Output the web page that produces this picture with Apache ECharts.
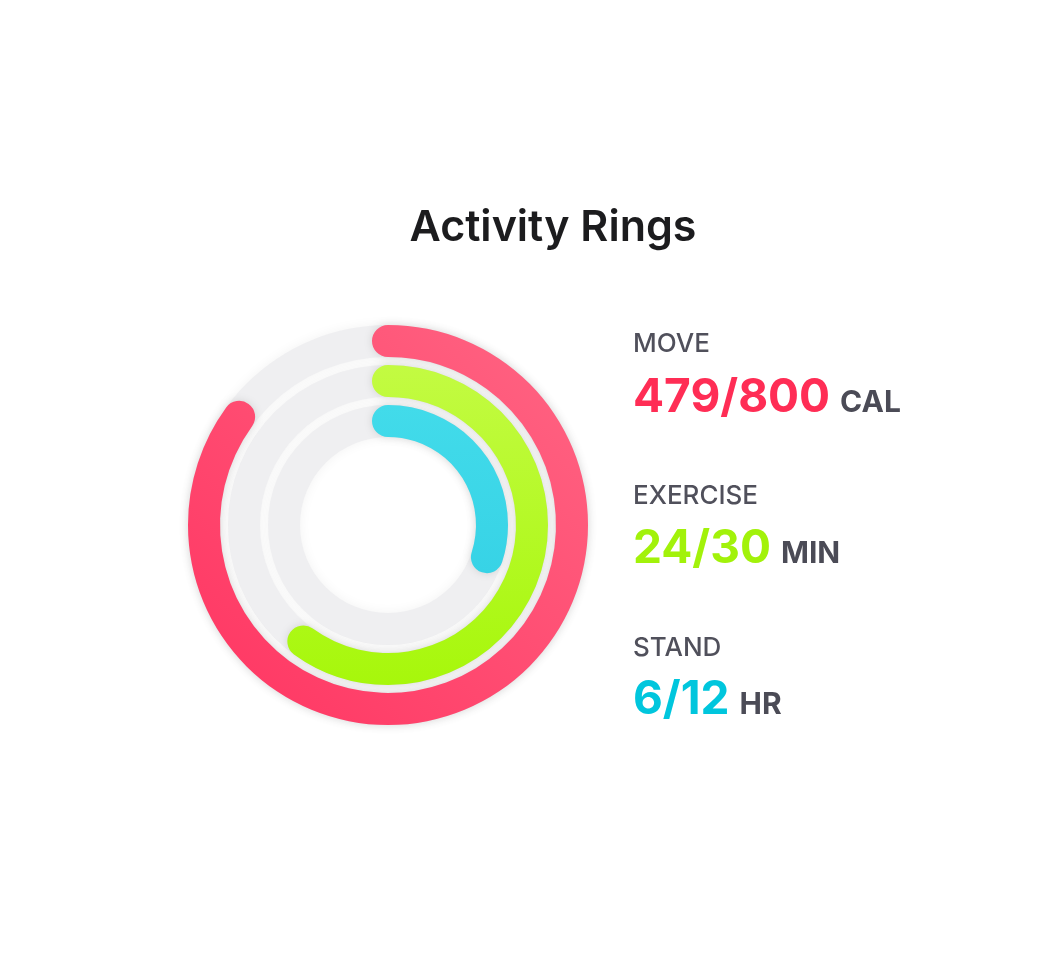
<!DOCTYPE html>
<html>
<head>
<meta charset="utf-8">
<script src="https://cdn.jsdelivr.net/npm/echarts@6/dist/echarts.min.js"></script>
<style>
html,body{margin:0;padding:0;background:#fff;}
#chart{width:1056px;height:974px;}
</style>
</head>
<body>
<div id="chart"></div>
<script>
// ---- data ----
const titleText = 'Activity Rings';
const ringNames = ['MOVE', 'EXERCISE', 'STAND'];
const ringProgress = [85, 60, 30];          // percent of ring drawn
const ringCurrent = [479, 24, 6];
const ringGoal = [800, 30, 12];
const ringUnits = ['CAL', 'MIN', 'HR'];
const ringTextColors = ['#ff2d55', '#a2f20a', '#00c6dd'];
const ringGradients = [
  ['#ff6684', '#ff3461'],
  ['#c3fb42', '#a7f70b'],
  ['#42dbea', '#37d3e6']
];

const chart = echarts.init(document.getElementById('chart'));

// radius axis goes inner -> outer, so reverse ring order
const order = [2, 1, 0];
const barData = order.map(i => ({
  value: ringProgress[i],
  name: ringNames[i],
  itemStyle: {
    color: new echarts.graphic.LinearGradient(i === 0 ? 1 : 0, 0, 0, 1, [
      { offset: 0, color: ringGradients[i][0] },
      { offset: 1, color: ringGradients[i][1] }
    ])
  }
}));

const ctx = document.createElement('canvas').getContext('2d');
function textWidth(t, font) { ctx.font = font; return ctx.measureText(t).width; }

const FONT = 'Inter, "Noto Sans", sans-serif';
const graphics = [];
graphics.push({
  type: 'text',
  style: { x: 553, y: 228, text: titleText, fill: '#1c1c1e', font: '600 43px ' + FONT, textAlign: 'center', textVerticalAlign: 'middle' }
});
const textX = 633;
const VAL = 46, UNIT = 30, LAB = 26;
ringNames.forEach((name, i) => {
  const labelBase = 352 + i * 152;
  const valueBase = 412 + i * 151;
  const valStr = ringCurrent[i] + '/' + ringGoal[i];
  const valFont = 'bold ' + VAL + 'px ' + FONT;
  const w = textWidth(valStr, valFont);
  graphics.push({
    type: 'text',
    style: { x: textX, y: labelBase - 0.3 * LAB, text: name, fill: '#50505b', font: '500 ' + LAB + 'px ' + FONT, textAlign: 'left', textVerticalAlign: 'middle' }
  });
  graphics.push({
    type: 'text',
    style: { x: textX, y: valueBase - 0.3 * VAL, text: valStr, fill: ringTextColors[i], font: valFont, textAlign: 'left', textVerticalAlign: 'middle' }
  });
  graphics.push({
    type: 'text',
    style: { x: textX + w + 10, y: valueBase - 0.3 * UNIT, text: ringUnits[i], fill: '#4b4b56', font: 'bold ' + UNIT + 'px ' + FONT, textAlign: 'left', textVerticalAlign: 'middle' }
  });
});

chart.setOption({
  backgroundColor: '#ffffff',
  animation: false,
  polar: { center: [388, 525], radius: [84, 204] },
  angleAxis: { type: 'value', min: 0, max: 100, startAngle: 90, clockwise: true, show: false },
  radiusAxis: { type: 'category', data: order.map(i => ringNames[i]), show: false },
  series: [{
    type: 'bar',
    coordinateSystem: 'polar',
    data: barData,
    barWidth: 32,
    roundCap: true,
    showBackground: true,
    backgroundStyle: {
      color: '#efeff1',
      shadowBlur: 12,
      shadowColor: 'rgba(0,0,0,0.05)'
    },
    itemStyle: {
      shadowBlur: 8,
      shadowColor: 'rgba(0,0,0,0.13)'
    },
    z: 2
  }],
  graphic: graphics
});
</script>
</body>
</html>
